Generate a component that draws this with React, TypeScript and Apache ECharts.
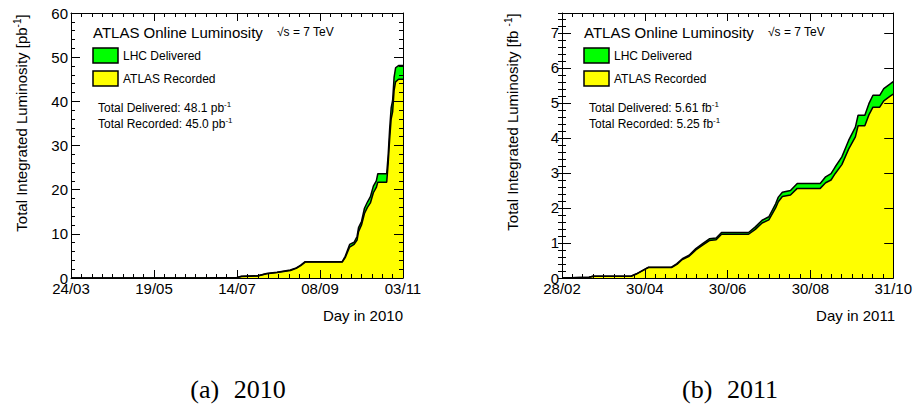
import React, { useEffect, useRef } from 'react';
import * as echarts from 'echarts';

// ---- data ----
const ticks2010 = ['24/03', '19/05', '14/07', '08/09', '03/11'];
const ticks2011 = ['28/02', '30/04', '30/06', '30/08', '31/10'];

// day offsets since 24/03/2010
const days2010 = [0, 94, 112, 115, 126, 132, 139, 148, 152, 155, 158, 183, 185, 188, 191, 193, 194, 196, 198, 200, 202, 204, 206, 207, 213, 214, 215, 216, 217, 218, 219, 221, 224];
const delivered2010 = [0, 0.05, 0.1, 0.4, 0.5, 1.0, 1.3, 1.8, 2.3, 2.9, 3.7, 3.7, 4.9, 7.6, 8.1, 9.4, 11.4, 12.8, 15.8, 17.2, 18.4, 20.8, 22.0, 23.6, 23.6, 27.9, 33.8, 38.5, 40.2, 45.5, 47.6, 48.1, 48.1];
const recorded2010 = [0, 0.05, 0.1, 0.35, 0.45, 0.95, 1.25, 1.7, 2.2, 2.8, 3.6, 3.6, 4.6, 7.0, 7.6, 8.6, 10.5, 12.0, 14.6, 16.0, 17.0, 19.3, 20.5, 21.7, 21.7, 26.0, 31.5, 36.0, 37.6, 42.5, 44.4, 45.0, 45.0];

// day offsets since 28/02/2011
const days2011 = [0, 20, 23, 51, 55, 62, 64, 81, 85, 89, 94, 99, 104, 109, 114, 118, 138, 143, 148, 153, 158, 160, 163, 169, 174, 191, 195, 199, 202, 207, 212, 217, 219, 224, 227, 230, 235, 238, 243, 245];
const delivered2011 = [0, 0.02, 0.05, 0.05, 0.12, 0.27, 0.31, 0.31, 0.41, 0.55, 0.65, 0.84, 0.98, 1.12, 1.14, 1.3, 1.3, 1.46, 1.65, 1.75, 2.12, 2.31, 2.45, 2.5, 2.7, 2.7, 2.89, 2.98, 3.17, 3.46, 3.93, 4.31, 4.65, 4.65, 4.98, 5.22, 5.22, 5.41, 5.55, 5.61];
const recorded2011 = [0, 0.02, 0.05, 0.05, 0.11, 0.26, 0.3, 0.3, 0.39, 0.53, 0.62, 0.8, 0.94, 1.07, 1.09, 1.25, 1.25, 1.39, 1.57, 1.66, 2.0, 2.18, 2.33, 2.37, 2.56, 2.56, 2.72, 2.8, 2.98, 3.24, 3.68, 4.03, 4.35, 4.35, 4.66, 4.88, 4.88, 5.06, 5.2, 5.25];

const SANS = "'Liberation Sans', Arial, Helvetica, sans-serif";
const SERIF = "'Liberation Serif', 'Times New Roman', serif";

const zip = (xs: number[], ys: number[]) => xs.map((x, i) => [x, ys[i]]);

function xAxisCfg(gridIndex: number, max: number, interval: number, labels: string[], top: boolean) {
  return {
    type: 'value',
    gridIndex,
    position: top ? 'top' : 'bottom',
    min: 0,
    max,
    interval,
    z: 5,
    axisLine: { show: true, onZero: false, lineStyle: { color: '#000', width: 1 } },
    axisTick: { show: true, inside: true, length: 8, lineStyle: { color: '#000', width: 1 } },
    minorTick: { show: true, splitNumber: 8, length: 4, lineStyle: { color: '#000', width: 1 } },
    splitLine: { show: false },
    axisLabel: {
      show: !top,
      margin: 3,
      fontSize: 15,
      fontFamily: SANS,
      color: '#000',
      formatter: (v: number) => labels[Math.round(v / interval)] ?? '',
    },
  };
}

function yAxisCfg(gridIndex: number, max: number, interval: number, right: boolean, minor: boolean, labels: boolean) {
  return {
    type: 'value',
    gridIndex,
    position: right ? 'right' : 'left',
    min: 0,
    max,
    interval,
    z: 5,
    axisLine: { show: true, onZero: false, lineStyle: { color: '#000', width: 1 } },
    axisTick: { show: true, inside: true, length: 9, lineStyle: { color: '#000', width: 1 } },
    minorTick: { show: minor, splitNumber: 5, length: 4, lineStyle: { color: '#000', width: 1 } },
    splitLine: { show: false },
    axisLabel: {
      show: labels,
      showMaxLabel: max % interval === 0,
      margin: 3,
      fontSize: 15,
      fontFamily: SANS,
      color: '#000',
    },
  };
}

function yMinorAxis(gridIndex: number, max: number, interval: number, right: boolean) {
  return {
    type: 'value',
    gridIndex,
    position: right ? 'right' : 'left',
    min: 0,
    max,
    interval,
    z: 5,
    axisLine: { show: false },
    axisTick: { show: true, inside: true, length: 4, lineStyle: { color: '#000', width: 1 } },
    splitLine: { show: false },
    axisLabel: { show: false },
  };
}

function areaSeries(name: string, xIdx: number, yIdx: number, data: number[][], color: string) {
  return {
    name,
    type: 'line',
    xAxisIndex: xIdx,
    yAxisIndex: yIdx,
    data,
    symbol: 'none',
    showSymbol: false,
    z: 2,
    lineStyle: { color: '#000', width: 1.5 },
    areaStyle: { color, opacity: 1 },
  };
}

function txt(x: number, y: number, text: string, fontSize: number, align = 'left', family = SANS) {
  return {
    type: 'text',
    x,
    y,
    z: 20,
    style: {
      text,
      fontSize,
      fontFamily: family,
      fill: '#000',
      align,
      textAlign: align,
      verticalAlign: 'middle',
      textVerticalAlign: 'middle',
    },
  };
}

function supTxt(x: number, y: number, base: string, sup: string, tail: string, fontSize: number, rotate = false) {
  const text = `{a|${base}}{s|${sup}}` + (tail ? `{a|${tail}}` : '');
  return {
    type: 'text',
    x,
    y,
    z: 20,
    rotation: rotate ? Math.PI / 2 : 0,
    style: {
      text,
      fill: '#000',
      fontSize,
      fontFamily: SANS,
      align: rotate ? 'center' : 'left',
      textAlign: rotate ? 'center' : 'left',
      verticalAlign: 'middle',
      textVerticalAlign: 'middle',
      rich: {
        a: { fontSize, fontFamily: SANS, fill: '#000' },
        s: { fontSize: Math.round(fontSize * 0.68), fontFamily: SANS, fill: '#000', padding: [0, 0, Math.round(fontSize * 0.55), 0] },
      },
    },
  };
}

function box(x: number, y: number, color: string) {
  return {
    type: 'rect',
    z: 20,
    shape: { x, y, width: 25, height: 15 },
    style: { fill: color, stroke: '#000', lineWidth: 1.5 },
  };
}

function panelGraphics(gx: number, unit: string, totDel: string, totRec: string) {
  // gx: left edge of plot frame
  return [
    txt(gx + 22, 32, 'ATLAS Online Luminosity', 15),
    txt(gx + 206, 32, '√s = 7 TeV', 12),
    box(gx + 22, 48, '#00ff00'),
    box(gx + 22, 71, '#ffff00'),
    txt(gx + 52, 55.5, 'LHC Delivered', 12),
    txt(gx + 52, 78.5, 'ATLAS Recorded', 12),
    supTxt(gx + 27, 108, `Total Delivered: ${totDel} ${unit}`, '-1', '', 12),
    supTxt(gx + 27, 124, `Total Recorded: ${totRec} ${unit}`, '-1', '', 12),
  ];
}

function caption(x: number, tag: string, year: string) {
  return {
    type: 'text',
    x,
    y: 389,
    z: 20,
    style: {
      text: `{p|${tag} }{n|${year}}`,
      fill: '#000',
      align: 'center',
      textAlign: 'center',
      verticalAlign: 'middle',
      textVerticalAlign: 'middle',
      rich: {
        p: { fontSize: 26, fontFamily: SERIF, fill: '#000', padding: [0, 8, 0, 0] },
        n: { fontSize: 26, fontFamily: SERIF, fill: '#000' },
      },
    },
  };
}

export default function App() {
  const ref = useRef<HTMLDivElement>(null);

  useEffect(() => {
    if (!ref.current) return;
    const chart = echarts.init(ref.current, undefined, { renderer: 'svg' });

    const option = {
      animation: false,
      backgroundColor: '#ffffff',
      grid: [
        { left: 71, top: 13, width: 332, height: 265, show: false },
        { left: 562, top: 13, width: 333, height: 265, show: false },
      ],
      xAxis: [
        xAxisCfg(0, 224, 56, ticks2010, false),
        xAxisCfg(0, 224, 56, ticks2010, true),
        xAxisCfg(1, 245, 61.25, ticks2011, false),
        xAxisCfg(1, 245, 61.25, ticks2011, true),
      ],
      yAxis: [
        yAxisCfg(0, 60, 10, false, true, true),
        yAxisCfg(0, 60, 10, true, true, false),
        yAxisCfg(1, 7.57, 1, false, false, true),
        yAxisCfg(1, 7.57, 1, true, false, false),
        yMinorAxis(1, 7.57, 0.2, false),
        yMinorAxis(1, 7.57, 0.2, true),
      ],
      series: [
        areaSeries('LHC Delivered', 0, 0, zip(days2010, delivered2010), '#00ff00'),
        areaSeries('ATLAS Recorded', 0, 0, zip(days2010, recorded2010), '#ffff00'),
        areaSeries('LHC Delivered', 2, 2, zip(days2011, delivered2011), '#00ff00'),
        areaSeries('ATLAS Recorded', 2, 2, zip(days2011, recorded2011), '#ffff00'),
      ],
      graphic: [
        ...panelGraphics(71, 'pb', '48.1', '45.0'),
        ...panelGraphics(562, 'fb', '5.61', '5.25'),
        supTxt(21, 123, 'Total Integrated Luminosity [pb', '-1', ']', 15, true),
        supTxt(512, 122, 'Total Integrated Luminosity [fb ', '-1', ']', 15, true),
        txt(403, 315, 'Day in 2010', 15, 'right'),
        txt(895, 315, 'Day in 2011', 15, 'right'),
        caption(238, '(a)', '2010'),
        caption(730, '(b)', '2011'),
      ],
    };

    chart.setOption(option as any);
    return () => {
      chart.dispose();
    };
  }, []);

  return (
    <div
      ref={ref}
      style={{ position: 'absolute', left: 0, top: 0, width: 915, height: 404, background: '#fff' }}
    />
  );
}
